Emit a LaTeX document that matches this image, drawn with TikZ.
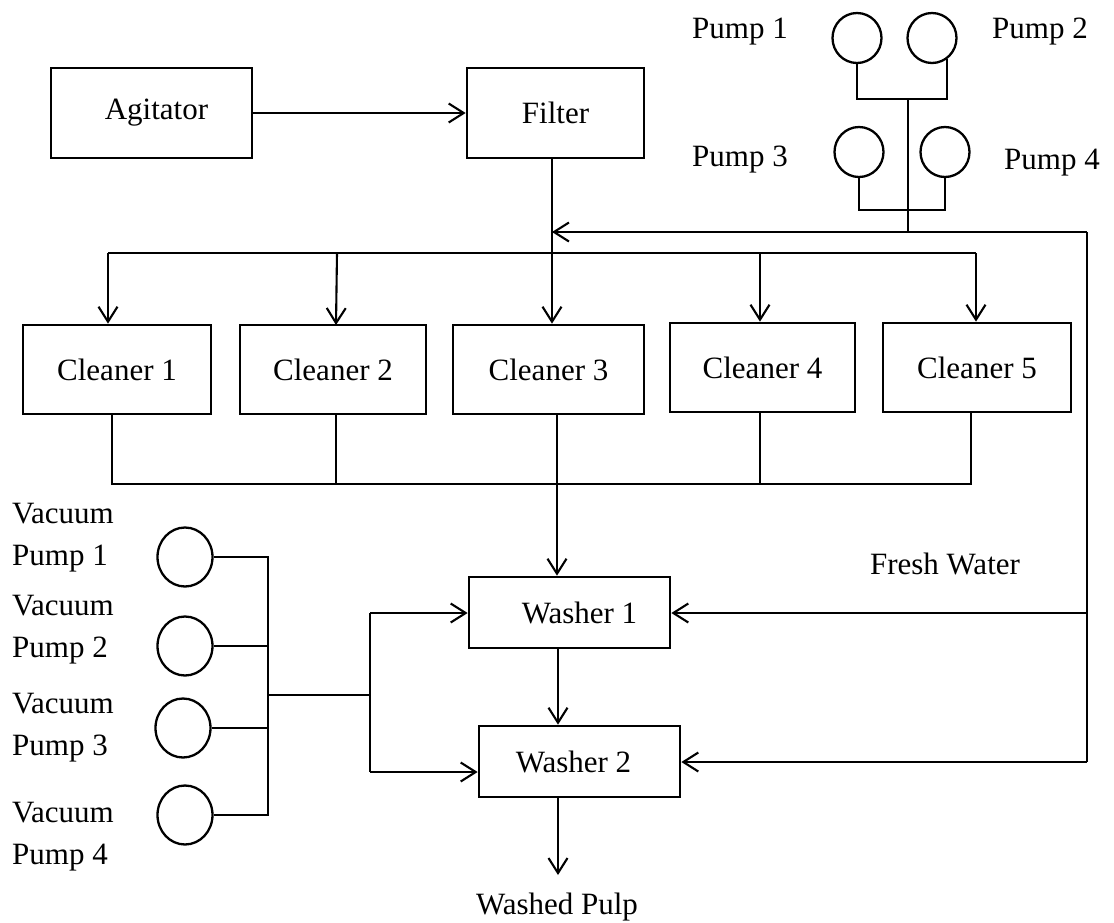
\documentclass[tikz,border=0pt]{standalone}
\usepackage{fontspec}
\setmainfont{Liberation Serif}
\usetikzlibrary{arrows.meta,shapes.geometric,calc}
\begin{document}
\begin{tikzpicture}[x=1pt,y=-1pt,
  every node/.style={font=\fontsize{31}{42}\selectfont},
  box/.style={draw,line width=2.7pt,inner sep=0pt,rectangle},
  pump/.style={draw,line width=2.3pt,ellipse,inner sep=0pt,minimum width=49pt,minimum height=50pt},
  vpump/.style={draw,line width=2.3pt,ellipse,inner sep=0pt,minimum width=55pt,minimum height=59pt},
  flow/.style={line width=2.1pt,-{Straight Barb[length=15pt,width=19pt]}},
  pipe/.style={line width=1.8pt},
  lbl/.style={inner sep=0pt}]
\useasboundingbox (0,0) rectangle (1114,922);

% main boxes
\node[box,minimum width=201pt,minimum height=90pt] (agit) at (151.5,113) {\hspace*{10pt}Agitator};
\node[box,minimum width=177pt,minimum height=90pt] (filt) at (555.5,113) {Filter};
\node[box,minimum width=188pt,minimum height=89pt] (C1) at (117,369.5) {Cleaner 1};
\node[box,minimum width=186pt,minimum height=89pt] (C2) at (333,369.5) {Cleaner 2};
\node[box,minimum width=191pt,minimum height=89pt] (C3) at (548.5,369.5) {Cleaner 3};
\node[box,minimum width=185pt,minimum height=89pt] (C4) at (762.5,367.5) {Cleaner 4};
\node[box,minimum width=188pt,minimum height=89pt] (C5) at (977,367.5) {Cleaner 5};
\node[box,minimum width=201pt,minimum height=71pt] (W1) at (569.5,612.5) {\hspace*{20pt}Washer 1};
\node[box,minimum width=201pt,minimum height=71pt] (W2) at (579.5,761.5) {Washer 2\hspace*{12pt}};

% top pumps
\node[pump] (P1) at (857,38) {};
\node[pump] (P2) at (932,38) {};
\node[pump] (P3) at (859,152) {};
\node[pump] (P4) at (945,152) {};
\node[lbl] (P1l) at (740,32) {Pump 1};
\node[lbl] (P2l) at (1040,32) {Pump 2};
\node[lbl] (P3l) at (740,160) {Pump 3};
\node[lbl] (P4l) at (1052,163) {Pump 4};

% vacuum pumps
\node[vpump] (V1) at (185,557) {};
\node[vpump] (V2) at (185,646) {};
\node[vpump] (V3) at (183,728) {};
\node[vpump] (V4) at (185,815) {};
\node[lbl,anchor=west,align=left] (V1l) at (12,538) {Vacuum\\Pump 1};
\node[lbl,anchor=west,align=left] (V2l) at (12,630) {Vacuum\\Pump 2};
\node[lbl,anchor=west,align=left] (V3l) at (12,728) {Vacuum\\Pump 3};
\node[lbl,anchor=west,align=left] (V4l) at (12,837) {Vacuum\\Pump 4};

\node[lbl] (fwl) at (945,564) {Fresh Water};
\node[lbl] (wpl) at (557,907) {Washed Pulp};

% coordinates
\coordinate (jt) at (908,99);
\coordinate (jb) at (908,210);
\coordinate (jw) at (908,232);
\coordinate (fw) at (1087,232);
\coordinate (fw1) at (1087,613);
\coordinate (fw2) at (1087,762);
\coordinate (fj) at (552,232);
\coordinate (bL) at (108,253);
\coordinate (b2) at (337,253);
\coordinate (b4) at (760,253);
\coordinate (bR) at (976,253);
\coordinate (o1) at (112,484);
\coordinate (o2) at (336,484);
\coordinate (o3) at (557,484);
\coordinate (o4) at (760,484);
\coordinate (o5) at (971,484);
\coordinate (wa) at (558,700);
\coordinate (wp) at (558,875);
\coordinate (vbus) at (268,695);
\coordinate (vsplit) at (370,695);
\coordinate (va) at (370,613);
\coordinate (vc) at (370,772);

% agitator -> filter
\draw[flow] (agit) -- (filt);

% pumps network
\draw[pipe] (P1.south) |- (jt) -| (P2.-55);
\draw[pipe] (P3.south) |- (jb) -| (P4.south);
\draw[pipe] (jt) -- (jw);
\draw[flow] (fw) -- (fj);
\draw[pipe] (fw) -- (fw2);
\draw[flow] (fw1) -- (fw1 -| W1.east);
\draw[flow] (fw2) -- (fw2 -| W2.east);

% filter -> cleaners
\draw[pipe] (filt.south -| fj) -- (fj);
\draw[flow] (fj) -- (C3.north -| fj);
\draw[line width=2.1pt] (bL) -- (bR);
\draw[flow] (bL) -- (bL |- C1.north);
\draw[flow] (b2) -- (336,325);
\draw[flow] (b4) -- (b4 |- C4.north);
\draw[flow] (bR) -- (bR |- C5.north);

% cleaners -> washer 1
\draw[pipe] (C1.south -| o1) -- (o1) -- (o5) -- (C5.south -| o5);
\draw[pipe] (C2.south -| o2) -- (o2);
\draw[pipe] (C4.south -| o4) -- (o4);
\draw[flow] (C3.south -| o3) -- (W1.north -| o3);

% washers
\draw[flow] (W1.south -| wa) -- (W2.north -| wa);
\draw[flow] (W2.south -| wp) -- (wp);

% vacuum network
\draw[pipe] (V1.east) -| (vbus);
\draw[pipe] (V4.east) -| (vbus);
\draw[pipe] (V2.east) -- (V2.east -| vbus);
\draw[pipe] (V3.east) -- (V3.east -| vbus);
\draw[pipe] (vbus) -- (vsplit);
\draw[pipe] (va) -- (vc);
\draw[flow] (va) -- (va -| W1.west);
\draw[flow] (vc) -- (vc -| W2.west);
\end{tikzpicture}
\end{document}
